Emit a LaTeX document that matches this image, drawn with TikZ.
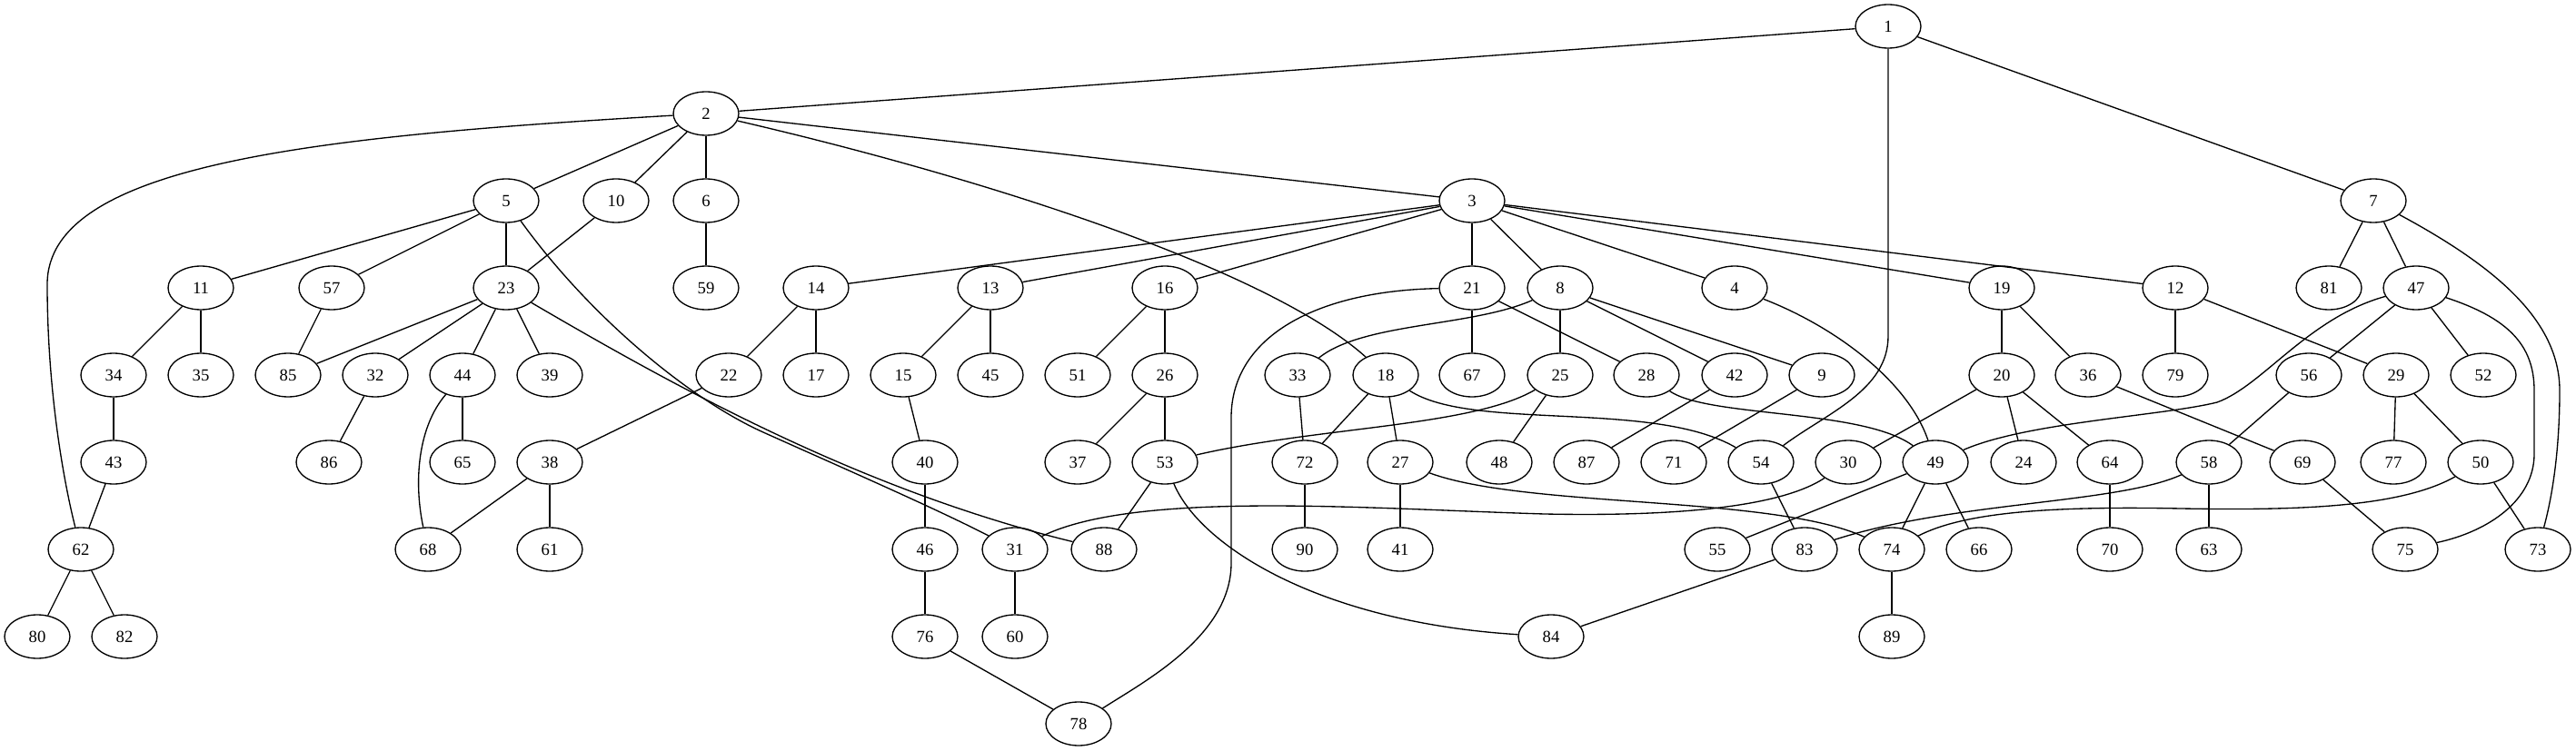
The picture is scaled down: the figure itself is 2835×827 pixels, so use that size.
\documentclass[tikz,border=0pt]{standalone}
\usepackage{fontspec}
\setmainfont{Liberation Serif}
\usetikzlibrary{shapes.geometric}
\tikzset{
  nd/.style={draw, ellipse, line width=1pt, minimum width=54pt, minimum height=36pt, inner sep=0pt, font=\fontsize{14}{16}\selectfont},
  ed/.style={line width=1pt}
}
\begin{document}
\begin{tikzpicture}[x=0.75pt, y=-0.75pt]
\useasboundingbox[fill=white] (0,0) rectangle (2835,827);
\foreach \n/\x/\y in {
1/2078/29, 2/777/125,
5/557/221, 10/678/221, 6/777/221, 3/1620/221, 7/2612/221,
11/221/317, 57/365/317, 23/557/317, 59/777/317, 14/898/317, 13/1090/317, 16/1282/317, 21/1620/317, 8/1717/317, 4/1909/317, 19/2203/317, 12/2394/317, 81/2563/317, 47/2659/317,
34/125/413, 35/221/413, 85/317/413, 32/413/413, 44/509/413, 39/605/413, 22/802/413, 17/898/413, 15/994/413, 45/1090/413, 51/1186/413, 26/1282/413, 33/1428/413, 18/1525/413, 67/1620/413, 25/1717/413, 28/1812/413, 42/1909/413, 9/2005/413, 20/2203/413, 36/2298/413, 79/2394/413, 56/2541/413, 29/2637/413, 52/2733/413,
43/125/509, 86/362/509, 65/509/509, 38/605/509, 40/1018/509, 37/1186/509, 53/1282/509, 72/1436/509, 27/1541/509, 48/1650/509, 87/1746/509, 71/1842/509, 54/1938/509, 30/2034/509, 49/2130/509, 24/2227/509, 64/2322/509, 58/2431/509, 69/2534/509, 77/2634/509, 50/2730/509,
62/89/605, 68/471/605, 61/605/605, 46/1018/605, 31/1117/605, 88/1215/605, 90/1436/605, 41/1541/605, 55/1890/605, 83/1986/605, 74/2082/605, 66/2178/605, 70/2322/605, 63/2431/605, 75/2647/605, 73/2793/605,
80/41/701, 82/137/701, 76/1018/701, 60/1117/701, 84/1707/701, 89/2082/701,
78/1187/797}
  \node[nd] (n\n) at (\x,\y) {\n};
\foreach \a/\b in {1/2, 1/7, 2/5, 2/10, 2/6, 2/3, 5/11, 5/57, 5/23, 10/23, 6/59,
  3/14, 3/13, 3/16, 3/21, 3/8, 3/4, 3/19, 3/12, 7/81, 7/47, 11/34, 11/35, 57/85,
  23/85, 23/32, 23/44, 23/39, 14/22, 14/17, 13/15, 13/45, 16/51, 16/26, 21/67, 21/28,
  8/25, 8/42, 8/9, 19/20, 19/36, 12/79, 12/29, 47/56, 47/52, 34/43, 32/86, 44/65,
  22/38, 15/40, 26/37, 26/53, 18/72, 18/27, 25/48, 42/87, 9/71, 20/30, 20/24, 20/64,
  36/69, 56/58, 29/77, 29/50, 43/62, 38/68, 38/61, 40/46, 53/88, 72/90, 27/41, 54/83,
  49/55, 49/74, 49/66, 64/70, 58/63, 69/75, 50/73, 62/80, 62/82, 46/76, 31/60, 76/78,
  83/84, 74/89, 33/72}
  \draw[ed] (n\a) -- (n\b);
% curved connectors
\draw[ed] (n1) -- (2078,370) .. controls (2078,430) and (2010,455) .. (n54);
\draw[ed] (n2) .. controls (350,150) and (52,180) .. (52,313) .. controls (52,430) and (70,530) .. (n62);
\draw[ed] (n2) .. controls (1100,200) and (1400,300) .. (n18);
\draw[ed] (n5) .. controls (650,350) and (760,440) .. (840,476) .. controls (920,512) and (1030,560) .. (n31);
\draw[ed] (n23) .. controls (750,430) and (950,540) .. (n88);
\draw[ed] (n21) .. controls (1450,320) and (1355,370) .. (1355,460) -- (1355,620) .. controls (1355,700) and (1260,750) .. (n78);
\draw[ed] (n8) .. controls (1620,360) and (1500,355) .. (n33);
\draw[ed] (n4) .. controls (2020,360) and (2100,420) .. (n49);
\draw[ed] (n25) .. controls (1620,470) and (1450,470) .. (n53);
\draw[ed] (n18) .. controls (1620,475) and (1820,440) .. (n54);
\draw[ed] (n28) .. controls (1880,460) and (2050,450) .. (n49);
\draw[ed] (n47) .. controls (2540,350) and (2490,425) .. (2440,443) .. controls (2380,458) and (2230,465) .. (n49);
\draw[ed] (n47) .. controls (2760,350) and (2789,380) .. (2789,430) -- (2789,500) .. controls (2789,550) and (2740,585) .. (n75);
\draw[ed] (n7) .. controls (2740,290) and (2817,350) .. (2817,430) .. controls (2817,500) and (2808,550) .. (n73);
\draw[ed] (n50) .. controls (2640,560) and (2520,562) .. (2400,560) .. controls (2250,557) and (2160,565) .. (n74);
\draw[ed] (n58) .. controls (2330,555) and (2150,552) .. (n83);
\draw[ed] (n27) .. controls (1680,560) and (1950,545) .. (n74);
\draw[ed] (n30) .. controls (1950,565) and (1800,568) .. (1700,566) .. controls (1500,560) and (1250,540) .. (n31);
\draw[ed] (n53) .. controls (1320,600) and (1450,685) .. (n84);
\draw[ed] (n44) .. controls (460,470) and (455,530) .. (n68);
\end{tikzpicture}
\end{document}
